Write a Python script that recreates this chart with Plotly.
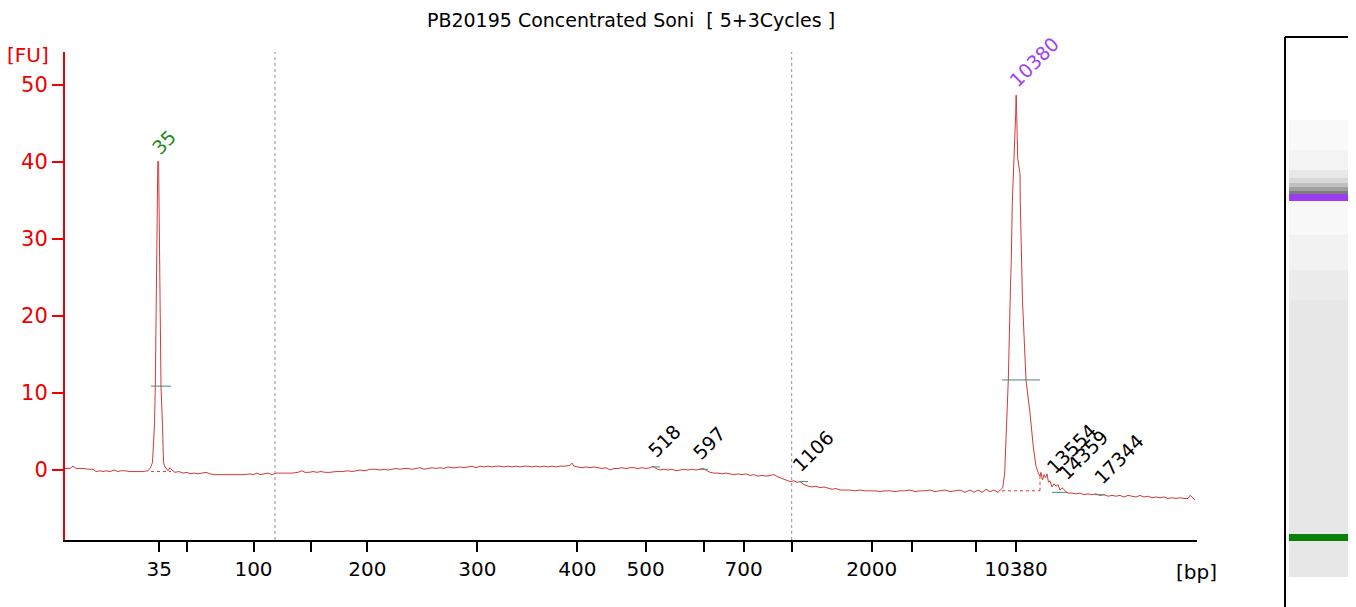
import plotly.graph_objects as go

# ---------------- data ----------------
title_text = "PB20195 Concentrated Soni  [ 5+3Cycles ]"

# migration time (s) and fluorescence (FU)
trace_time = [
    36.5, 37.0, 37.3, 37.6, 38.4, 38.8, 39.3, 39.6, 40.0, 40.3, 40.6, 41.0, 41.4, 41.8, 42.1, 42.5, 43.0, 43.6, 44.2, 44.8,
    45.05, 45.25, 45.35, 45.45, 45.53, 45.67, 45.78, 45.86, 45.93, 46.1, 46.25, 46.35, 46.5, 46.65, 46.8, 47.0, 47.2,
    47.5, 47.9, 48.3, 48.7, 49.0, 49.4, 49.8, 50.2, 50.6, 51.0, 51.5, 52.0, 52.6, 53.2, 53.8, 54.4, 55.0, 55.3, 55.7, 56.0,
    56.4, 56.8, 57.2, 57.6,
    58.0, 58.6, 59.2, 59.8, 60.2, 60.5, 60.9, 61.3, 61.7, 62.1, 62.5, 63.0, 63.6, 64.2, 64.8, 65.2, 65.5, 66.0, 66.5, 67.0, 67.5,
    68.0, 68.4, 68.8, 69.2, 69.6, 70.0, 70.4, 70.8, 71.2, 71.6, 72.0, 72.4, 72.8, 73.2, 73.6, 74.0, 74.4, 74.8, 75.2, 75.6,
    76.0, 76.4, 76.8, 77.2, 77.6, 78.0, 78.4, 78.8, 79.2, 79.6, 80.0, 80.4, 80.8, 81.2, 81.6, 82.0, 82.4, 82.8, 83.2, 83.6,
    84.0, 84.4, 84.8, 85.2, 85.6, 86.0, 86.5, 87.0, 87.2, 87.4,
    87.8, 88.2, 88.6, 89.0, 89.4, 89.8, 90.2, 90.6, 91.0, 91.4, 91.8, 92.2, 92.6, 93.0, 93.4, 93.8, 94.2, 94.6, 95.0, 95.3,
    95.6, 96.0, 96.4,
    96.8, 97.2, 97.6, 98.0, 98.4, 98.8, 99.2, 99.6, 100.0, 100.3, 100.6, 101.0, 101.4,
    101.8, 102.2, 102.6, 103.0, 103.4, 103.8, 104.2, 104.6, 105.0, 105.4, 105.8, 106.2, 106.6, 107.0, 107.4, 107.8, 108.2,
    108.6, 109.0, 109.4, 109.7, 110.0,
    110.4, 110.8, 111.2, 111.6, 112.0, 112.4, 112.8, 113.2, 113.6, 114.0, 114.5, 115.0, 115.5, 116.0, 116.5, 117.0,
    117.5, 118.0, 118.5, 119.0, 119.5, 120.0, 120.5, 121.0, 121.5, 122.0, 122.5, 123.0, 123.5, 124.0, 124.5, 125.0, 125.5,
    126.0, 126.5, 127.0, 127.4, 127.8, 128.2, 128.6, 129.0, 129.4, 129.8, 130.1,
    130.27, 130.47, 130.57, 130.67, 130.83, 131.05, 131.13, 131.23, 131.37, 131.57, 131.6, 131.63, 131.77, 132.0, 132.03,
    132.17, 132.25, 132.6, 133.0, 133.33, 133.6, 133.83, 134.0, 134.1, 134.25, 134.4, 134.55, 134.7, 134.85, 135.0, 135.2,
    135.4, 135.6, 135.8, 136.0, 136.2, 136.4, 136.6, 136.8, 137.2, 137.6, 138.0, 138.4, 138.8, 139.2, 139.6, 140.0, 140.4,
    140.8, 141.2, 141.6, 142.0, 142.4, 142.8, 143.2, 143.6, 144.0, 144.4, 144.8, 145.2, 145.6, 146.0, 146.4, 146.8, 147.2,
    147.6, 148.0, 148.4, 148.8, 149.0, 149.2, 149.5,
]
trace_fu = [
    0.2, 0.2, 0.5, 0.2, 0.2, 0.1, 0.1, -0.2, -0.1, -0.2, -0.1, -0.2, 0.0, -0.2, -0.1, -0.1, -0.2, -0.2, -0.2, -0.1,
    0.3, 1.0, 4.0, 6.0, 10.8, 29.7, 40.1, 40.1, 30.0, 10.8, 5.8, 1.0, 0.4, 0.2, -0.1, 0.3, 0.0,
    -0.3, -0.2, -0.4, -0.3, -0.5, -0.4, -0.5, -0.4, -0.3, -0.5, -0.6, -0.6, -0.6, -0.6, -0.6, -0.6, -0.5, -0.6, -0.4, -0.6,
    -0.5, -0.4, -0.6, -0.4,
    -0.4, -0.4, -0.4, -0.3, -0.1, -0.3, -0.3, -0.2, -0.3, -0.2, -0.3, -0.3, -0.2, -0.2, -0.1, -0.2, -0.1, 0.0, -0.1, 0.1, 0.1,
    0.0, 0.1, 0.0, 0.1, 0.2, 0.1, 0.2, 0.2, 0.1, 0.2, 0.3, 0.1, 0.2, 0.3, 0.2, 0.3, 0.2, 0.4, 0.3, 0.3,
    0.4, 0.3, 0.4, 0.5, 0.3, 0.5, 0.4, 0.5, 0.4, 0.5, 0.5, 0.4, 0.5, 0.4, 0.5, 0.4, 0.5, 0.5, 0.4, 0.5,
    0.4, 0.5, 0.4, 0.5, 0.4, 0.5, 0.5, 0.6, 0.9, 0.5,
    0.4, 0.3, 0.4, 0.3, 0.4, 0.3, 0.2, 0.3, 0.0, 0.2, 0.2, 0.3, 0.2, 0.3, 0.3, 0.2, 0.3, 0.2, 0.3, 0.5,
    0.2, 0.0, 0.1,
    0.0, 0.1, -0.1, 0.0, 0.1, 0.0, 0.1, 0.0, 0.1, 0.2, 0.0, -0.3, -0.4,
    -0.4, -0.5, -0.4, -0.5, -0.6, -0.5, -0.6, -0.5, -0.7, -0.6, -0.8, -0.7, -0.8, -0.7, -0.6, -0.9, -1.1,
    -1.3, -1.5, -1.4, -1.6, -1.5,
    -1.9, -2.1, -2.2, -2.1, -2.3, -2.2, -2.4, -2.5, -2.4, -2.6, -2.6, -2.6, -2.7, -2.6, -2.7, -2.7,
    -2.7, -2.8, -2.7, -2.7, -2.8, -2.7, -2.7, -2.6, -2.8, -2.7, -2.7, -2.6, -2.8, -2.7, -2.6, -2.8, -2.7,
    -2.6, -2.9, -2.6, -2.9, -2.6, -2.9, -2.5, -2.8, -2.6, -2.9, -2.5,
    -2.3, -0.4, 3.0, 7.4, 11.7, 24.0, 27.3, 34.7, 39.0, 46.3, 48.7, 48.7, 40.5, 38.5, 34.7,
    27.3, 22.0, 11.7, 7.4, 3.0, 0.5, -0.4, -0.8, -0.3, -1.3, -0.6, -1.0, -0.5, -1.6, -1.4, -2.2,
    -1.8, -2.1, -1.9, -2.6, -2.3, -2.6, -2.8, -3.0, -3.0, -3.1, -3.0, -3.2, -3.1, -3.2, -3.1, -3.3, -3.2,
    -3.4, -3.3, -3.4, -3.3, -3.5, -3.3, -3.4, -3.5, -3.3, -3.5, -3.4, -3.6, -3.5, -3.6, -3.5, -3.7, -3.6,
    -3.7, -3.6, -3.7, -3.7, -3.3, -3.5, -3.9,
]

# ladder (bp) and its migration times
ladder_bp = [35, 50, 100, 150, 200, 300, 400, 500, 600, 700, 1000, 2000, 3000, 7000, 10380]
ladder_time = [45.93, 48.73, 55.35, 61.13, 66.73, 77.73, 87.73, 94.57, 100.37, 104.37, 109.17, 117.17, 121.2, 127.6, 131.6]
ladder_labelled = [35, 100, 200, 300, 400, 500, 700, 2000, 10380]

# region markers (migration time)
region_time = [57.5, 109.17]

# called peaks
peak_label = ["35", "518", "597", "1106", "13554", "14359", "17344", "10380"]
peak_time = [45.82, 95.5, 100.3, 109.7, 135.0, 136.2, 140.0, 131.6]
peak_fu = [40.1, 0.3, 0.0, -1.6, -1.5, -2.3, -3.3, 48.7]
peak_color = ["#1e8c1e", "black", "black", "black", "black", "black", "black", "#a040f0"]
label_shift = [(6, 19), (9, 27), (6, 27), (16, 31), (21, 33), (21, 33), (19, 36), (18, 33)]

# half-height markers of called peaks: (left t, right t, FU)
hh_left = [45.1, 130.2, 95.2, 100.0, 110.0, 135.2, 139.5]
hh_right = [47.1, 134.0, 96.0, 100.8, 110.8, 136.8, 140.5]
hh_fu = [10.9, 11.7, 0.4, 0.1, -1.5, -2.9, -3.2]
# peak baselines (dotted): left t, right t, FU
bl_left = [45.1, 130.2]
bl_right = [47.1, 134.0]
bl_fu = [-0.2, -2.7]

x_range = [36.5, 149.7]
y_range = [-9.09, 54.3]

# ---------------- figure ----------------
OFF = 8  # page body margin
W, H = 1356 - OFF, 607 - OFF
ML, MT = 65 - OFF, 52 - OFF
MR = W - (1197 - OFF)
MB = H - (540 - OFF)
PW, PH = W - ML - MR, H - MT - MB
FONT = "DejaVu Sans"

fig = go.Figure()
fig.add_trace(go.Scatter(x=trace_time, y=trace_fu, mode="lines",
                         line=dict(color="#d43a3a", width=1), hoverinfo="skip", showlegend=False))

shapes = []
for t in region_time:
    shapes.append(dict(type="line", xref="x", yref="paper", x0=t, x1=t, y0=0, y1=1,
                       line=dict(color="#8a8aa8", width=1, dash="dot")))
for a, b, v in zip(hh_left, hh_right, hh_fu):
    shapes.append(dict(type="line", xref="x", yref="y", x0=a, x1=b, y0=v, y1=v,
                       line=dict(color="#3f8a7e", width=1)))
for a, b, v in zip(bl_left, bl_right, bl_fu):
    shapes.append(dict(type="line", xref="x", yref="y", x0=a, x1=b, y0=v, y1=v,
                       line=dict(color="#d43a3a", width=1, dash="dot")))
shapes.append(dict(type="line", xref="x", yref="y", x0=bl_right[1], x1=bl_right[1], y0=bl_fu[1], y1=-0.4,
                   line=dict(color="#d43a3a", width=1, dash="dot")))


def px(xi):
    # image x pixel -> paper
    return (xi - OFF - ML) / PW


def py(yi):
    # image y pixel -> paper
    return (H - MB - (yi - OFF)) / PH


# gel lane image
gel_rows = [
    (120, 150, "#f9f9f9"), (150, 170, "#f3f3f3"), (170, 178, "#e8e8e8"), (178, 183, "#d8d8d8"),
    (183, 187, "#c0c0c0"), (187, 191, "#a0a0a0"), (191, 194, "#7c7c7c"), (194, 201, "#9b3cf0"),
    (201, 235, "#f8f8f8"), (235, 270, "#f2f2f2"), (270, 300, "#ececec"), (300, 577, "#e7e7e7"),
    (534, 541, "#0a820a"),
]
for y0, y1, c in gel_rows:
    shapes.append(dict(type="rect", xref="paper", yref="paper", x0=px(1289), x1=px(1360),
                       y0=py(y1), y1=py(y0), fillcolor=c, line=dict(width=0), layer="above"))
shapes.append(dict(type="line", xref="paper", yref="paper", x0=px(1285), x1=px(1285),
                   y0=py(612), y1=py(37), line=dict(color="black", width=2)))
shapes.append(dict(type="line", xref="paper", yref="paper", x0=px(1285), x1=px(1360),
                   y0=py(37), y1=py(37), line=dict(color="black", width=2)))

annotations = []
for lab, t, v, c, (dx, dy) in zip(peak_label, peak_time, peak_fu, peak_color, label_shift):
    annotations.append(dict(x=t, y=v, xref="x", yref="y", text=lab, showarrow=False,
                            textangle=-45, xanchor="center", yanchor="middle",
                            xshift=dx, yshift=dy,
                            font=dict(family=FONT, size=19, color=c)))
annotations.append(dict(x=px(28), y=py(55), xref="paper", yref="paper", text="[FU]", showarrow=False,
                        xanchor="center", yanchor="middle",
                        font=dict(family=FONT, size=20, color="#ee0000")))
annotations.append(dict(x=px(1196), y=py(572), xref="paper", yref="paper", text="[bp]", showarrow=False,
                        xanchor="center", yanchor="middle",
                        font=dict(family=FONT, size=20, color="black")))

ticktext = [str(b) if b in ladder_labelled else "" for b in ladder_bp]

fig.update_layout(
    width=W, height=H,
    margin=dict(l=ML, r=MR, t=MT, b=MB),
    paper_bgcolor="white", plot_bgcolor="white",
    title=dict(text=title_text, x=0.5, xref="paper", y=1 - (20 - OFF) / H, yref="container",
               xanchor="center", yanchor="middle",
               font=dict(family=FONT, size=19, color="black")),
    xaxis=dict(range=x_range, showgrid=False, zeroline=False, showline=True, linecolor="black",
               linewidth=2, ticks="outside", ticklen=10, tickwidth=2, tickcolor="black",
               tickmode="array", tickvals=ladder_time, ticktext=ticktext,
               tickfont=dict(family=FONT, size=20, color="black")),
    yaxis=dict(range=y_range, showgrid=False, zeroline=False, showline=True, linecolor="#ee0000",
               linewidth=2, ticks="outside", ticklen=11, tickwidth=2, tickcolor="#ee0000",
               tickmode="array", tickvals=[0, 10, 20, 30, 40, 50],
               tickfont=dict(family=FONT, size=21, color="#ee0000")),
    shapes=shapes,
    annotations=annotations,
)

fig.write_html("out.html")
